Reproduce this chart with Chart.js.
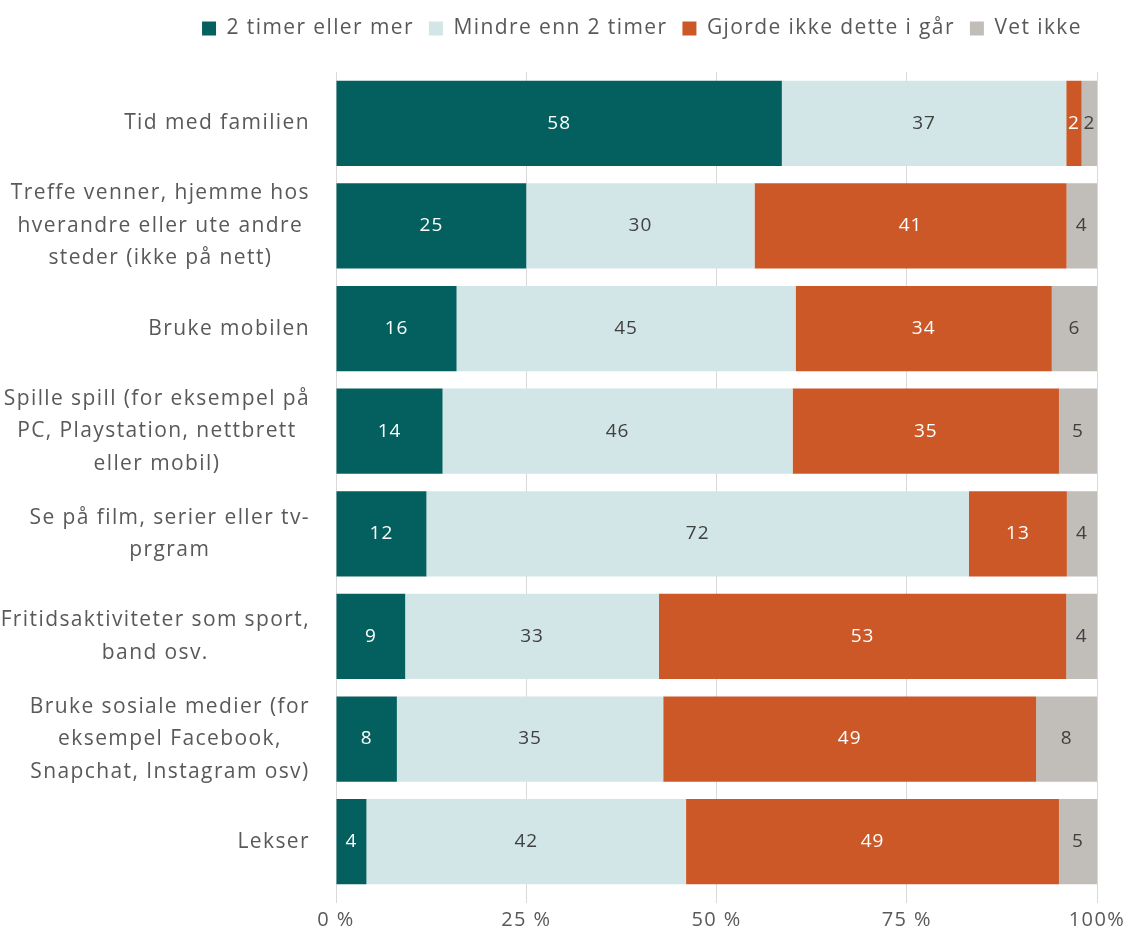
<!DOCTYPE html>
<html>
<head>
<meta charset="utf-8">
<script src="https://cdn.jsdelivr.net/npm/chart.js@4"></script>
<style>
html,body{margin:0;padding:0;background:#fff;}
#wrap{width:1131px;height:940px;}
</style>
</head>
<body>
<div id="wrap"><canvas id="c" width="1131" height="940"></canvas></div>
<script>
const categories = [
  ["Tid med familien"],
  ["Treffe venner, hjemme hos","hverandre eller ute andre","steder (ikke på nett)"],
  ["Bruke mobilen"],
  ["Spille spill (for eksempel på","PC, Playstation, nettbrett","eller mobil)"],
  ["Se på film, serier eller tv-","prgram"],
  ["Fritidsaktiviteter som sport,","band osv."],
  ["Bruke sosiale medier (for","eksempel Facebook,","Snapchat, Instagram osv)"],
  ["Lekser"]
];
const seriesNames = ["2 timer eller mer","Mindre enn 2 timer","Gjorde ikke dette i går","Vet ikke"];
const twoHoursOrMore = [58,25,16,14,12,9,8,4];
const lessThanTwoHours = [37,30,45,46,72,33,35,42];
const didNotDoYesterday = [2,41,34,35,13,53,49,49];
const dontKnow = [2,4,6,5,4,4,8,5];
const tickValues = [0,25,50,75,100];

const colors = ["#03605f","#d3e6e7","#cc5827","#c1bdb9"];
const labelColors = ["#ffffff","#404040","#ffffff","#404040"];
const raw = [twoHoursOrMore,lessThanTwoHours,didNotDoYesterday,dontKnow];
const totals = categories.map((_,i)=>raw.reduce((s,a)=>s+a[i],0));

const FONT = "'Open Sans', sans-serif";
const SPACING = '1.4px';

const datasets = raw.map((arr,k)=>({
  label: seriesNames[k],
  data: arr.map((v,i)=>v/totals[i]*100),
  rawValues: arr,
  backgroundColor: colors[k],
  borderWidth: 0,
  categoryPercentage: 0.83,
  barPercentage: 1.0
}));

const spacingPlugin = {
  id:'spacing',
  beforeInit(chart){
    chart.ctx.letterSpacing = SPACING;
    const legend = chart.legend;
    const fit = legend.fit;
    legend.fit = function(){ fit.call(this); this.height += 23; };
  },
  beforeUpdate(chart){ chart.ctx.letterSpacing = SPACING; },
  beforeDraw(chart){ chart.ctx.letterSpacing = SPACING; }
};

const valueLabels = {
  id:'valueLabels',
  afterDatasetsDraw(chart){
    const ctx = chart.ctx;
    ctx.save();
    ctx.letterSpacing = '1px';
    ctx.font = "19px " + FONT;
    ctx.textAlign = 'center';
    ctx.textBaseline = 'middle';
    chart.data.datasets.forEach((ds,k)=>{
      const meta = chart.getDatasetMeta(k);
      meta.data.forEach((el,i)=>{
        const cx = (el.x + el.base)/2;
        ctx.fillStyle = labelColors[k];
        ctx.fillText(String(ds.rawValues[i]), cx, el.y);
      });
    });
    ctx.restore();
  }
};

const catLabels = {
  id:'catLabels',
  afterDraw(chart){
    const scale = chart.scales.y;
    const ctx = chart.ctx;
    ctx.save();
    ctx.letterSpacing = SPACING;
    ctx.font = "21px " + FONT;
    ctx.fillStyle = '#595959';
    ctx.textAlign = 'center';
    ctx.textBaseline = 'middle';
    const lh = 32.5;
    const right = scale.right - 26;
    categories.forEach((lines,i)=>{
      const y = scale.getPixelForTick(i);
      const maxW = Math.max(...lines.map(l=>ctx.measureText(l).width));
      const cx = right - maxW/2;
      lines.forEach((l,j)=>{
        ctx.fillText(l, cx, y + (j-(lines.length-1)/2)*lh);
      });
    });
    ctx.restore();
  }
};

new Chart(document.getElementById('c'), {
  type:'bar',
  data:{ labels: categories.map(l=>l.join(' ')), datasets },
  options:{
    indexAxis:'y',
    responsive:false,
    animation:false,
    layout:{ padding:{ left:0, right:34, top:3, bottom:3 } },
    plugins:{
      legend:{
        position:'top',
        align:'end',
        labels:{
          boxWidth:14, boxHeight:14,
          color:'#595959',
          font:{ family: FONT, size:21 },
          padding:15
        }
      },
      tooltip:{ enabled:false }
    },
    scales:{
      x:{
        stacked:true,
        min:0, max:100,
        afterBuildTicks(scale){ scale.ticks = tickValues.map(v=>({value:v})); },
        ticks:{
          callback:(v)=> v + (v===100 ? '%' : ' %'),
          color:'#595959',
          font:{ family: FONT, size:20 },
          padding:5,
          maxRotation:0
        },
        grid:{ color:'#d9d9d9', tickLength:10, drawTicks:true },
        border:{ display:false }
      },
      y:{
        stacked:true,
        ticks:{ display:false },
        grid:{ display:false },
        border:{ display:false },
        afterFit(scale){ scale.width = 336; }
      }
    }
  },
  plugins:[spacingPlugin, valueLabels, catLabels]
});
</script>
</body>
</html>
